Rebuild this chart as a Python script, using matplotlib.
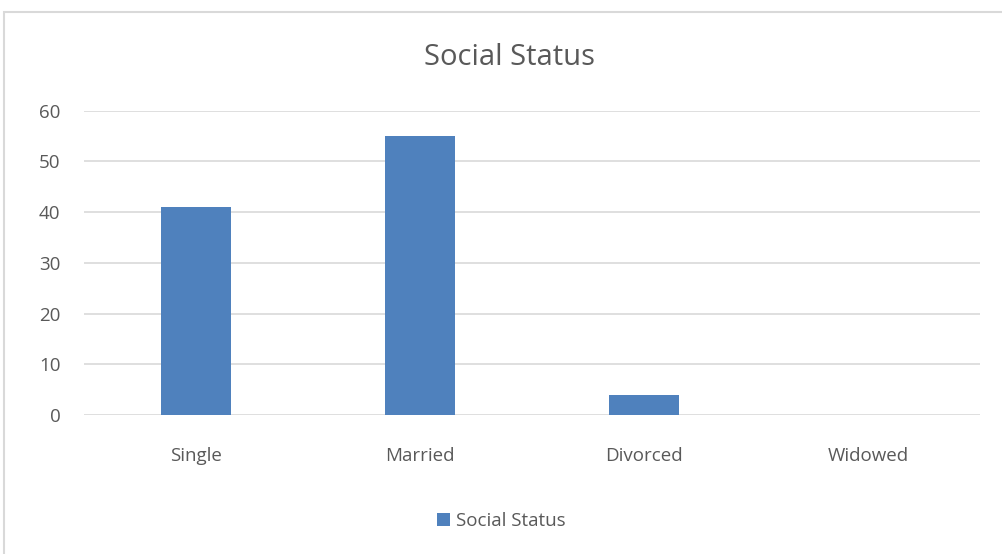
import matplotlib
matplotlib.use("Agg")
import matplotlib.pyplot as plt
from matplotlib.patches import Rectangle

categories = ["Single", "Married", "Divorced", "Widowed"]
values = [41, 55, 4, 0]
series_name = "Social Status"

plt.rcParams["font.family"] = ["Open Sans", "DejaVu Sans"]
text_color = "#595959"
bar_color = "#4F81BD"

fig = plt.figure(figsize=(10.02, 5.54), dpi=100)
ax = fig.add_axes([0.084, 0.251, 0.894, 0.549])

x = range(len(categories))
bars = ax.bar(x, values, width=0.31, color=bar_color, label=series_name, zorder=3)

ax.set_xlim(-0.5, len(categories) - 0.5)
ax.set_ylim(0, 60)
ax.set_yticks(range(0, 61, 10))
ax.set_xticks(list(x))
ax.set_xticklabels(categories)
ax.grid(axis="y", color="#D9D9D9", linewidth=1.2, zorder=0)
for s in ax.spines.values():
    s.set_visible(False)
ax.tick_params(length=0, labelsize=13.5, colors=text_color)
ax.tick_params(axis="x", pad=23)
ax.tick_params(axis="y", pad=17)

fig.text(0.508, 0.897, "Social Status", ha="center", va="center", fontsize=21, color=text_color)

fig.legend(handles=[bars], labels=[series_name], loc="center", bbox_to_anchor=(0.5, 0.06),
           frameon=False, fontsize=13.5, handlelength=0.7, handleheight=0.7, handletextpad=0.3,
           labelcolor=text_color)

# outer chart frame (only left and top edges visible)
fig.patches.append(Rectangle((0.004, -0.05), 1.2, 1.028, transform=fig.transFigure,
                             fill=False, edgecolor="#D9D9D9", linewidth=1.5))

fig.savefig("out.png", dpi=100)
